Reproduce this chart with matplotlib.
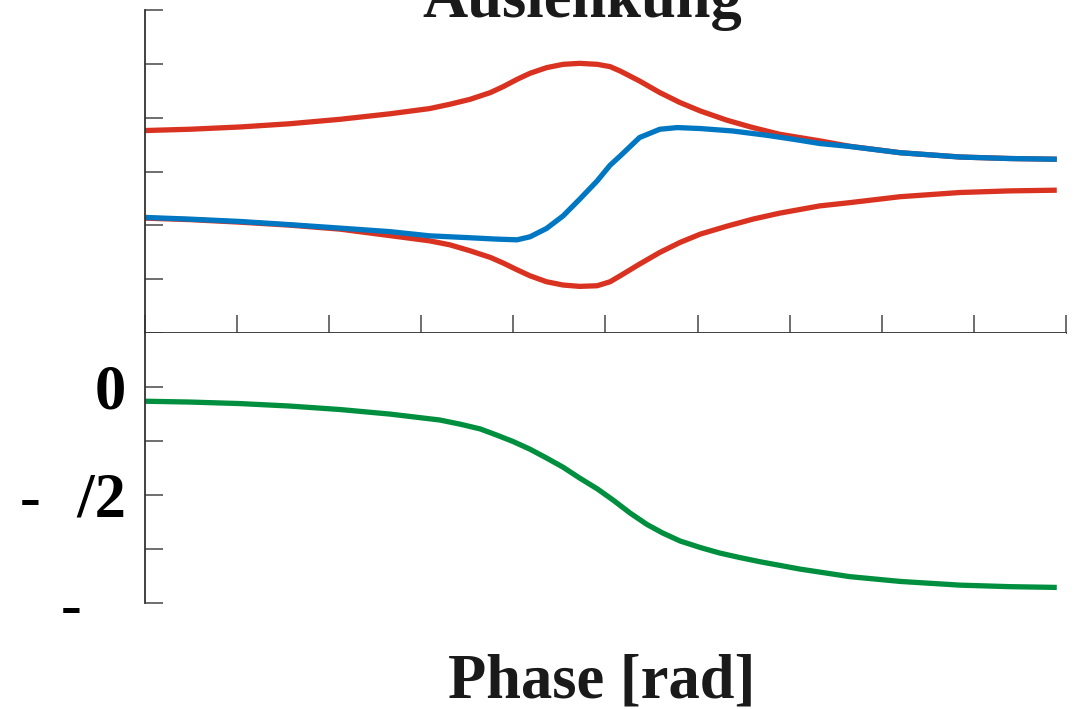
import numpy as np
import matplotlib
matplotlib.use("Agg")
import matplotlib.pyplot as plt

# ---- data ----
x_red = [0.00, 0.49, 1.03, 1.57, 2.12, 2.66, 3.09, 3.31, 3.53, 3.75, 3.89, 4.04, 4.18, 4.36,
         4.54, 4.72, 4.91, 5.05, 5.16, 5.37, 5.59, 5.81, 6.03, 6.32, 6.60, 6.89, 7.33, 7.65,
         8.20, 8.85, 9.39, 9.90]
red_upper = [0.761, 0.785, 0.827, 0.887, 0.970, 1.072, 1.169, 1.249, 1.341, 1.466, 1.577,
             1.712, 1.824, 1.929, 1.991, 2.009, 1.991, 1.948, 1.866, 1.681, 1.466, 1.280,
             1.124, 0.952, 0.816, 0.692, 0.568, 0.469, 0.349, 0.269, 0.241, 0.228]
red_lower = [-0.866, -0.894, -0.941, -0.996, -1.071, -1.191, -1.288, -1.362, -1.473, -1.596,
             -1.701, -1.826, -1.937, -2.048, -2.109, -2.134, -2.122, -2.048, -1.937, -1.720,
             -1.503, -1.317, -1.163, -1.015, -0.885, -0.774, -0.638, -0.579, -0.468, -0.390,
             -0.360, -0.347]

x_blue = [0.00, 0.49, 1.03, 1.57, 2.12, 2.66, 3.09, 3.45, 3.82, 4.04, 4.18, 4.36, 4.54,
          4.72, 4.91, 5.05, 5.16, 5.37, 5.59, 5.78, 6.03, 6.38, 6.75, 7.04, 7.33, 7.65,
          8.20, 8.85, 9.39, 9.90]
blue = [-0.853, -0.885, -0.928, -0.987, -1.052, -1.117, -1.195, -1.224, -1.256, -1.269,
        -1.213, -1.058, -0.824, -0.514, -0.174, 0.117, 0.289, 0.631, 0.785, 0.816, 0.798,
        0.753, 0.673, 0.599, 0.519, 0.466, 0.349, 0.269, 0.241, 0.228]

x_phase = [0.00, 0.49, 1.03, 1.57, 2.12, 2.66, 3.20, 3.42, 3.64, 3.82, 4.00, 4.18, 4.36,
           4.54, 4.72, 4.91, 5.08, 5.27, 5.45, 5.62, 5.81, 6.03, 6.24, 6.46, 6.68, 7.11,
           7.65, 8.20, 8.85, 9.39, 9.90]
phase = [-0.207, -0.219, -0.241, -0.277, -0.328, -0.394, -0.480, -0.540, -0.610, -0.700,
         -0.795, -0.905, -1.033, -1.167, -1.325, -1.481, -1.642, -1.836, -1.999, -2.123,
         -2.240, -2.335, -2.415, -2.481, -2.542, -2.648, -2.758, -2.828, -2.882, -2.904,
         -2.915]

x_ticks = list(range(0, 11))
amp_ticks = [-3, -2, -1, 0, 1, 2, 3]
phase_ticks = [0, -np.pi / 4, -np.pi / 2, -3 * np.pi / 4, -np.pi]
phase_ticklabels = ["0", "", "-\u2002\u200a/2", "", "-\u2002\u2009"]

title_text = "Auslenkung"
xlabel_text = "Phase [rad]"

# ---- style ----
RED = "#DA3220"
BLUE = "#0077C2"
GREEN = "#008F3E"
SPINE = "#333333"
TICK = "#555555"
FONT = "Liberation Serif"
LW = 3.8

fig = plt.figure(figsize=(10.75, 7.09), dpi=100)
ax1 = fig.add_axes([0.13488, 0.53032, 0.85674, 0.45557])
ax2 = fig.add_axes([0.13488, 0.14951, 0.85674, 0.38082])

line_kw = dict(lw=LW, solid_capstyle="butt", solid_joinstyle="round")

# top panel
ax1.plot(x_red, red_upper, color=RED, **line_kw)
ax1.plot(x_red, red_lower, color=RED, **line_kw)
ax1.plot(x_blue, blue, color=BLUE, **line_kw)
ax1.set_xlim(0, 10)
ax1.set_ylim(-3, 3)
ax1.set_xticks(x_ticks)
ax1.set_yticks(amp_ticks)
ax1.set_xticklabels([])
ax1.set_yticklabels([])
for s in ["top", "right"]:
    ax1.spines[s].set_visible(False)
for s in ["left", "bottom"]:
    ax1.spines[s].set_color(SPINE)
    ax1.spines[s].set_linewidth(1.3)
ax1.tick_params(axis="both", direction="in", length=13, width=1.2, color=TICK)

# bottom panel
ax2.plot(x_phase, phase, color=GREEN, **line_kw)
ax2.set_xlim(0, 10)
ax2.set_ylim(-np.pi, np.pi / 4)
ax2.set_xticks([])
ax2.set_yticks(phase_ticks)
ax2.set_yticklabels(phase_ticklabels, fontfamily=FONT, fontweight="bold", fontsize=45)
for s in ["top", "right", "bottom"]:
    ax2.spines[s].set_visible(False)
ax2.spines["left"].set_color(SPINE)
ax2.spines["left"].set_linewidth(1.3)
ax2.tick_params(axis="y", direction="in", length=13, width=1.2, color=TICK, pad=14)

fig.text(582.5 / 1075, 1 - 17 / 709, title_text, ha="center", va="baseline",
         fontfamily=FONT, fontweight="bold", fontsize=45, color="#1a1a1a")
fig.text(602 / 1075, 12 / 709, xlabel_text, ha="center", va="baseline",
         fontfamily=FONT, fontweight="bold", fontsize=45, color="#1a1a1a")

fig.savefig("out.png", dpi=100)
